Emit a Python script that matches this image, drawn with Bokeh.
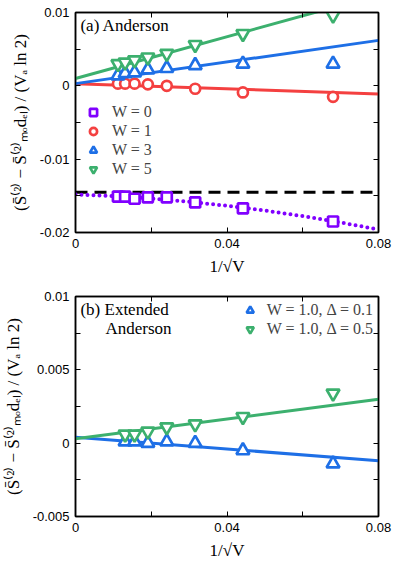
from bokeh.plotting import figure
from bokeh.layouts import column
from bokeh.models import (FixedTicker, CustomJSTickFormatter, LinearAxis, Legend,
                          LegendItem, Label, Range1d)
from bokeh.embed import file_html
from bokeh.resources import INLINE

# ---------------- data: panel (a) Anderson ----------------
xa = [0.0112, 0.0131, 0.0156, 0.0191, 0.0241, 0.0316, 0.0442, 0.0680]
w0 = [-0.0151, -0.0151, -0.0154, -0.0152, -0.0152, -0.0159, -0.0167, -0.0185]
w1 = [0.0003, 0.0003, 0.0003, 0.0002, 0.0000, -0.0004, -0.0009, -0.0015]
w3 = [0.0014, 0.0017, 0.0018, 0.0022, 0.0024, 0.0028, 0.0030, 0.0030]
w5 = [0.0030, 0.0032, 0.0035, 0.0039, 0.0044, 0.0056, 0.0071, 0.0096]

fit_x = [0.0, 0.08]
fit_w1 = [0.0003, -0.0011]
fit_w3 = [0.0003, 0.0062]
fit_w5 = [0.0010, 0.0124]
ref_level = [-0.0145, -0.0145]

curve_x = [0.0, 0.01, 0.02, 0.03, 0.04, 0.05, 0.06, 0.07, 0.08]
curve_w0 = [-0.0148, -0.01503, -0.01536, -0.01581, -0.01635, -0.01701, -0.01776, -0.01863, -0.0196]

# ---------------- data: panel (b) Extended Anderson ----------------
xb = [0.0131, 0.0156, 0.0191, 0.0241, 0.0316, 0.0442, 0.0680]
d01 = [0.0001, 0.0001, 0.0000, 0.0001, 0.0000, -0.0005, -0.0014]
d05 = [0.0006, 0.0006, 0.0008, 0.0011, 0.0013, 0.0018, 0.0034]
fit_d01 = [0.0004, -0.0012]
fit_d05 = [0.0003, 0.0030]

x_major = [0, 0.04, 0.08]
x_minor = [0.02, 0.06]
ya_major = [-0.02, -0.01, 0, 0.01]
ya_minor = [-0.015, -0.005, 0.005]
yb_major = [-0.005, 0, 0.005, 0.01]
yb_minor = [-0.0025, 0.0025, 0.0075]

PURPLE = "#8000ff"
RED = "#f44040"
BLUE = "#1e6fe6"
GREEN = "#3cb06e"

SERIF = "Liberation Serif"
SANS = "Liberation Sans"
YLABEL = "(S̄⁽²⁾ − S̄⁽²⁾ₘₒdₑₗ) / (Vₐ ln 2)"
XLABEL = "1/√V"

fmt_code = "return (Math.round(tick*1e6)/1e6).toString();"


def make_fig(height, border_top, border_bottom, yr, ymaj, ymin):
    p = figure(width=395, height=height, output_backend="svg", toolbar_location=None,
               x_range=Range1d(0, 0.08), y_range=Range1d(*yr),
               min_border_left=75, min_border_right=17,
               min_border_top=border_top, min_border_bottom=border_bottom,
               background_fill_color="white", border_fill_color="white")
    p.xgrid.visible = False
    p.ygrid.visible = False
    p.outline_line_color = "black"
    p.outline_line_width = 1.5
    for ax, maj, mnr in ((p.xaxis[0], x_major, x_minor), (p.yaxis[0], ymaj, ymin)):
        ax.ticker = FixedTicker(ticks=maj, minor_ticks=mnr)
        ax.formatter = CustomJSTickFormatter(code=fmt_code)
        ax.major_tick_in = 5
        ax.major_tick_out = 0
        ax.minor_tick_in = 5
        ax.minor_tick_out = 0
        ax.axis_line_width = 1.5
        ax.major_tick_line_width = 1
        ax.minor_tick_line_width = 1
        ax.major_label_text_font = SANS
        ax.major_label_text_font_size = "13px"
        ax.major_label_text_color = "black"
        ax.axis_label_text_font = SERIF
        ax.axis_label_text_font_style = "normal"
        ax.axis_label_text_font_size = "17px"
        ax.axis_label_text_color = "black"
    p.xaxis[0].axis_label = XLABEL
    p.xaxis[0].major_label_standoff = 6
    p.xaxis[0].axis_label_standoff = 6
    p.yaxis[0].axis_label = YLABEL
    p.yaxis[0].major_label_standoff = 6
    p.yaxis[0].axis_label_standoff = 7
    # mirrored axes (ticks only)
    for loc, maj, mnr in (("above", x_major, x_minor), ("right", ymaj, ymin)):
        ax = LinearAxis(ticker=FixedTicker(ticks=maj, minor_ticks=mnr),
                        formatter=CustomJSTickFormatter(code="return '';"),
                        major_tick_in=5, major_tick_out=0, minor_tick_in=5, minor_tick_out=0,
                        major_label_standoff=0, major_label_text_font_size="1px",
                        axis_line_width=1.5)
        p.add_layout(ax, loc)
    return p


# ---------------- panel (a) ----------------
pa = make_fig(282, 12, 50, (-0.02, 0.01), ya_major, ya_minor)

pa.line(fit_x, ref_level, line_color="black", line_width=3, line_dash="12 7")
pa.line(curve_x, curve_w0, line_color=PURPLE, line_width=4, line_dash="0 6", line_cap="round")
pa.line(fit_x, fit_w1, line_color=RED, line_width=3)
pa.line(fit_x, fit_w3, line_color=BLUE, line_width=3)
pa.line(fit_x, fit_w5, line_color=GREEN, line_width=3)

r0 = pa.scatter(xa, w0, marker="square", size=10, fill_color="white", line_color=PURPLE, line_width=2.7)
r1 = pa.scatter(xa, w1, marker="circle", size=10, fill_color="white", line_color=RED, line_width=2.7)
r3 = pa.scatter(xa, w3, marker="triangle", size=13, fill_color="white", line_color=BLUE, line_width=2.7)
r5 = pa.scatter(xa, w5, marker="inverted_triangle", size=13, fill_color="white", line_color=GREEN, line_width=2.7)

leg_a = Legend(items=[LegendItem(label="W = 0", renderers=[r0]),
                      LegendItem(label="W = 1", renderers=[r1]),
                      LegendItem(label="W = 3", renderers=[r3]),
                      LegendItem(label="W = 5", renderers=[r5])],
               location=(5, 50), glyph_width=18, glyph_height=18, label_height=18,
               spacing=1, padding=4, margin=0, label_standoff=10,
               label_text_font=SERIF, label_text_font_size="16px",
               background_fill_alpha=0, border_line_alpha=0)
pa.add_layout(leg_a, "center")

pa.add_layout(Label(x=0.0013, y=0.0082, text="(a) Anderson", text_font=SERIF,
                    text_font_size="17px", text_baseline="middle", text_color="black"))

# ---------------- panel (b) ----------------
pb = make_fig(280, 14, 44, (-0.005, 0.01), yb_major, yb_minor)

pb.line(fit_x, fit_d01, line_color=BLUE, line_width=3)
pb.line(fit_x, fit_d05, line_color=GREEN, line_width=3)
rb1 = pb.scatter(xb, d01, marker="triangle", size=13, fill_color="white", line_color=BLUE, line_width=2.7)
rb2 = pb.scatter(xb, d05, marker="inverted_triangle", size=13, fill_color="white", line_color=GREEN, line_width=2.7)

leg_b = Legend(items=[LegendItem(label="W = 1.0, Δ = 0.1", renderers=[rb1]),
                      LegendItem(label="W = 1.0, Δ = 0.5", renderers=[rb2])],
               location="top_right", glyph_width=18, glyph_height=18, label_height=18,
               spacing=1, padding=2, margin=3, label_standoff=8,
               label_text_font=SERIF, label_text_font_size="16px",
               background_fill_alpha=0, border_line_alpha=0)
pb.add_layout(leg_b, "center")

pb.add_layout(Label(x=0.0013, y=0.0091, text="(b) Extended", text_font=SERIF,
                    text_font_size="17px", text_baseline="middle", text_color="black"))
pb.add_layout(Label(x=0.0079, y=0.0078, text="Anderson", text_font=SERIF,
                    text_font_size="17px", text_baseline="middle", text_color="black"))

layout = column(pa, pb, spacing=0)
open("out.html", "w").write(file_html(layout, INLINE))
